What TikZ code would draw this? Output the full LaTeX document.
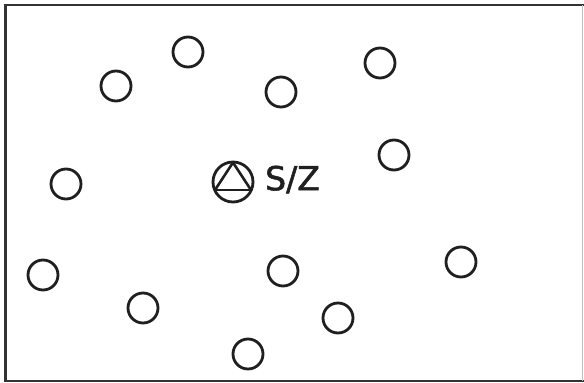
\documentclass[tikz,border=0pt]{standalone}
\usepackage{fontspec}
\setmainfont{DejaVu Sans}
\newfontfamily\labelfont[FakeBold=1.6]{DejaVu Sans}
\begin{document}
\begin{tikzpicture}[x=1pt,y=-1pt,
  ring/.style={circle,draw=black!88,line width=2.8pt,minimum size=30pt,inner sep=0pt},
  bigring/.style={circle,draw=black!88,line width=2.8pt,minimum size=40pt,inner sep=0pt},
  frameline/.style={draw=black!80,line width=2.4pt}]
\useasboundingbox (0,0) rectangle (584,383);
% frame
\draw[frameline] (584,5) -- (5.5,5) -- (5.5,381) -- (584,381);
\draw[draw=black!25,line width=1pt] (582.5,5) -- (582.5,381);
% small circles
\node[ring] (c1) at (188,52) {};
\node[ring] (c2) at (116,86) {};
\node[ring] (c3) at (281,92) {};
\node[ring] (c4) at (380,63) {};
\node[ring] (c5) at (394,155) {};
\node[ring] (c6) at (66,184) {};
\node[ring] (c7) at (43,275) {};
\node[ring] (c8) at (143,308) {};
\node[ring] (c9) at (283,271) {};
\node[ring] (c10) at (461,262) {};
\node[ring] (c11) at (338,318) {};
\node[ring] (c12) at (248,354) {};
% S/Z symbol
\node[bigring] (sz) at (233,182) {};
\coordinate (apex) at (233,162.5);
\coordinate (bl) at (215,190);
\coordinate (br) at (251,190);
\draw[line width=2.6pt,draw=black!88,line join=round] (bl) -- (apex) -- (br);
\draw[line width=2.6pt,draw=black!88] (bl) -- (br);
\node[anchor=west,inner sep=0pt,font=\labelfont\fontsize{33}{33}\selectfont,text=black!88] (lbl) at (265,179.5) {S/Z};
\end{tikzpicture}
\end{document}
